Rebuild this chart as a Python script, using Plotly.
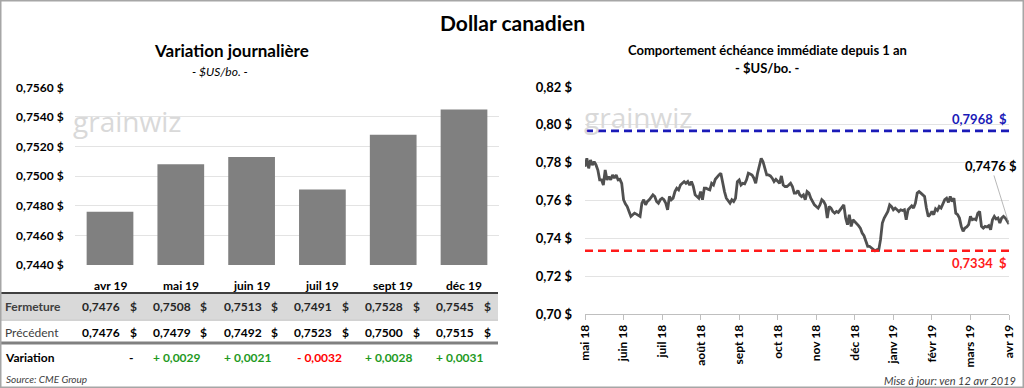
import plotly.graph_objects as go

# ---------------- data ----------------
bar_months = ["avr 19", "mai 19", "juin 19", "juil 19", "sept 19", "déc 19"]
fermeture = [0.7476, 0.7508, 0.7513, 0.7491, 0.7528, 0.7545]
precedent = [0.7476, 0.7479, 0.7492, 0.7523, 0.7500, 0.7515]
variation = [None, 0.0029, 0.0021, -0.0032, 0.0028, 0.0031]

line_tick_labels = ["mai 18", "juin 18", "juil 18", "août 18", "sept 18", "oct 18",
                    "nov 18", "déc 18", "janv 19", "févr 19", "mars 19", "avr 19"]
cad_values = [
    0.7779, 0.7823, 0.7770, 0.7814, 0.7788, 0.7805, 0.7788, 0.7761, 0.7709, 0.7709, 0.7682,
    0.7761, 0.7709, 0.7726, 0.7709, 0.7735, 0.7718, 0.7735, 0.7709, 0.7712, 0.7691,
    0.7604, 0.7582, 0.7568, 0.7542, 0.7516, 0.7525, 0.7533, 0.7528, 0.7521, 0.7516, 0.7586,
    0.7604, 0.7577, 0.7595, 0.7604, 0.7621, 0.7630, 0.7621, 0.7595, 0.7586, 0.7604,
    0.7612, 0.7604, 0.7586, 0.7551, 0.7621, 0.7604, 0.7612, 0.7647, 0.7665, 0.7656, 0.7682,
    0.7691, 0.7700, 0.7691, 0.7700, 0.7682, 0.7700, 0.7674, 0.7630, 0.7621, 0.7612,
    0.7647, 0.7604, 0.7665, 0.7665, 0.7660, 0.7656, 0.7691, 0.7682, 0.7712, 0.7726, 0.7735,
    0.7744, 0.7691, 0.7647, 0.7612, 0.7595, 0.7586, 0.7604, 0.7595, 0.7612, 0.7700,
    0.7709, 0.7682, 0.7691, 0.7688, 0.7709, 0.7744, 0.7740, 0.7735, 0.7718, 0.7691, 0.7744,
    0.7788, 0.7823, 0.7805, 0.7770, 0.7735, 0.7735, 0.7730, 0.7718, 0.7700, 0.7712,
    0.7700, 0.7691, 0.7730, 0.7682, 0.7674, 0.7674, 0.7682, 0.7691, 0.7674, 0.7639, 0.7639,
    0.7653, 0.7630, 0.7621, 0.7630, 0.7604, 0.7647, 0.7639, 0.7612, 0.7595, 0.7577,
    0.7568, 0.7560, 0.7577, 0.7604, 0.7595, 0.7577, 0.7507, 0.7568, 0.7560, 0.7542, 0.7533,
    0.7542, 0.7537, 0.7551, 0.7565, 0.7577, 0.7507, 0.7472, 0.7525, 0.7463, 0.7498,
    0.7489, 0.7481, 0.7467, 0.7454, 0.7428, 0.7414, 0.7384, 0.7358, 0.7358, 0.7349, 0.7340,
    0.7334, 0.7340, 0.7337, 0.7393, 0.7481, 0.7507, 0.7525, 0.7542, 0.7577, 0.7568,
    0.7551, 0.7560, 0.7551, 0.7542, 0.7551, 0.7547, 0.7551, 0.7498, 0.7551, 0.7560, 0.7572,
    0.7560, 0.7586, 0.7639, 0.7647, 0.7639, 0.7630, 0.7621, 0.7560, 0.7516, 0.7525,
    0.7542, 0.7525, 0.7556, 0.7547, 0.7568, 0.7560, 0.7586, 0.7604, 0.7612, 0.7590, 0.7621,
    0.7595, 0.7612, 0.7533, 0.7525, 0.7507, 0.7463, 0.7437, 0.7454, 0.7460, 0.7472,
    0.7516, 0.7498, 0.7502, 0.7498, 0.7533, 0.7542, 0.7463, 0.7454, 0.7463, 0.7460, 0.7467,
    0.7446, 0.7498, 0.7516, 0.7502, 0.7507, 0.7481, 0.7507, 0.7516, 0.7507, 0.7489,
    0.7476,
]
high_1y = 0.7968
low_1y = 0.7334
last_value = cad_values[-1]

left_y_ticks = [0.7440, 0.7460, 0.7480, 0.7500, 0.7520, 0.7540, 0.7560]
right_y_ticks = [0.70, 0.72, 0.74, 0.76, 0.78, 0.80, 0.82]

# ---------------- helpers ----------------
FONT = "Lato"
W, H = 1024, 388


def py(ypx):
    return 1 - ypx / H


def px(xpx):
    return xpx / W


def fr(v, d=4):
    return f"{v:.{d}f}".replace(".", ",")


fig = go.Figure()

fig.add_trace(go.Bar(
    x=bar_months, y=fermeture, marker=dict(color="#808080", line=dict(width=0)),
    width=0.66, xaxis="x", yaxis="y", showlegend=False, hoverinfo="skip",
))

idx = list(range(len(cad_values)))
fig.add_trace(go.Scatter(
    x=idx, y=cad_values, mode="lines", line=dict(color="#505050", width=2.8),
    xaxis="x2", yaxis="y2", showlegend=False, hoverinfo="skip",
))
fig.add_trace(go.Scatter(
    x=[idx[0], idx[-1]], y=[high_1y, high_1y], mode="lines",
    line=dict(color="#1a1ab8", width=2.6, dash="8px,5px"),
    xaxis="x2", yaxis="y2", showlegend=False, hoverinfo="skip",
))
fig.add_trace(go.Scatter(
    x=[idx[0], idx[-1]], y=[low_1y, low_1y], mode="lines",
    line=dict(color="#ff1a1a", width=2.6, dash="8px,5px"),
    xaxis="x2", yaxis="y2", showlegend=False, hoverinfo="skip",
))

tick_step = (len(cad_values) - 1) // (len(line_tick_labels) - 1)
tickvals = [i * tick_step for i in range(len(line_tick_labels))]

ann = []


def add_text(text, x, y, xref="paper", yref="paper", xanchor="center", size=12, color="#000",
             family=FONT, xshift=0, yshift=0):
    ann.append(dict(text=text, x=x, y=y, xref=xref, yref=yref, xanchor=xanchor, yanchor="middle",
                    xshift=xshift, yshift=yshift, showarrow=False,
                    font=dict(size=size, color=color, family=family)))


add_text("<b>Dollar canadien</b>", 0.5, py(22), size=21)
add_text("<b>Variation journalière</b>", px(231), py(51), size=17)
add_text("<i>- $US/bo. -</i>", px(220), py(71), size=12)
add_text("<b>Comportement échéance immédiate depuis 1 an</b>", px(767), py(50), size=13)
add_text("<b>- $US/bo. -</b>", px(767), py(68), size=13)

for wx, wy in [(71, 121), (582, 117)]:
    add_text("grainwiz", px(wx), py(wy), xanchor="left", size=28, color="#d9d9d9", family="Open Sans")

for m in bar_months:
    add_text(f"<b>{m}</b>", m, py(285), xref="x", size=12)

add_text("<b>Fermeture</b>", px(3), py(306), xanchor="left", color="#404040")
add_text("Précédent", px(3), py(332), xanchor="left", color="#404040")
add_text("<b>Variation</b>", px(3), py(357), xanchor="left", color="#000")

for m, f, p, v in zip(bar_months, fermeture, precedent, variation):
    for val, yy, col in [(f, 306, "#262626"), (p, 332, "#000")]:
        add_text(f"<b>{fr(val)}</b>", m, py(yy), xref="x", xanchor="right", xshift=12, color=col)
        add_text("<b>$</b>", m, py(yy), xref="x", xanchor="center", xshift=23, color=col)
    if v is None:
        add_text("<b>-</b>", m, py(357), xref="x", xanchor="right", xshift=25)
    elif v >= 0:
        add_text(f"<b>+ {fr(abs(v))}</b>", m, py(357), xref="x", xanchor="right", xshift=22,
                 color="#1f9a1f")
    else:
        add_text(f"<b>- {fr(abs(v))}</b>", m, py(357), xref="x", xanchor="right", xshift=22,
                 color="#ff0000")

add_text("<i>Source: CME Group</i>", px(4), py(379), xanchor="left", size=10, color="#404040")
add_text("<i>Mise à jour: ven 12 avr 2019</i>", px(1018), py(380), xanchor="right", size=11,
         color="#404040")

add_text(f"<b>{fr(high_1y)}  $</b>", 1, high_1y, xref="x2 domain", yref="y2", xanchor="right",
         yshift=12, size=13, color="#1a1ab8")
add_text(f"<b>{fr(low_1y)}  $</b>", 1, low_1y, xref="x2 domain", yref="y2", xanchor="right",
         yshift=-12, size=13, color="#ff1a1a")
ann.append(dict(text=f"<b>{fr(last_value)} $</b>", x=idx[-1], y=last_value, xref="x2", yref="y2",
                ax=-18, ay=-58, showarrow=True, arrowhead=0, arrowwidth=0.8,
                arrowcolor="#a6a6a6", font=dict(size=13, color="#000", family=FONT)))

shapes = [
    dict(type="rect", xref="paper", yref="paper", x0=0, x1=px(498), y0=py(319), y1=py(294),
         fillcolor="#d9d9d9", line=dict(width=0), layer="below"),
    dict(type="line", xref="paper", yref="paper", x0=0, x1=px(498), y0=py(293), y1=py(293),
         line=dict(color="#404040", width=2)),
    dict(type="line", xref="paper", yref="paper", x0=0, x1=px(498), y0=py(320), y1=py(320),
         line=dict(color="#a6a6a6", width=1)),
    dict(type="line", xref="paper", yref="paper", x0=0, x1=px(498), y0=py(343), y1=py(343),
         line=dict(color="#808080", width=3)),
    dict(type="rect", xref="paper", yref="paper", x0=0, x1=1, y0=0, y1=1,
         line=dict(color="#a6a6a6", width=3), fillcolor="rgba(0,0,0,0)"),
]

fig.update_layout(
    width=W, height=H, margin=dict(l=0, r=0, t=0, b=0, pad=0, autoexpand=False),
    paper_bgcolor="white", plot_bgcolor="white",
    font=dict(family=FONT, color="#000"),
    showlegend=False,
    annotations=ann, shapes=shapes,
    xaxis=dict(domain=[px(74.6), px(499.4)], type="category", showticklabels=False,
               showgrid=False, zeroline=False, showline=False, fixedrange=True, automargin=False),
    yaxis=dict(domain=[py(265), py(87.3)], range=[0.744, 0.756], tickvals=left_y_ticks,
               ticktext=[f"{fr(v)} $" for v in left_y_ticks],
               showgrid=True, gridcolor="#e3e3e3", gridwidth=1,
               zeroline=False, showline=False, ticklabelstandoff=10, automargin=False,
               tickfont=dict(size=12, weight="bold", family=FONT, color="#000")),
    xaxis2=dict(domain=[px(585), px(1009)], range=[0, len(cad_values) - 1], tickvals=tickvals,
                ticktext=line_tick_labels, tickangle=-90, ticks="outside", ticklen=5,
                tickcolor="#bfbfbf", showline=True, linecolor="#bfbfbf", linewidth=1,
                showgrid=False, zeroline=False, anchor="y2", automargin=False,
                tickfont=dict(size=12, weight="bold", family=FONT, color="#000")),
    yaxis2=dict(domain=[py(314), py(87)], range=[0.70, 0.82], tickvals=right_y_ticks,
                ticktext=[f"{fr(v, 2)} $" for v in right_y_ticks],
                showgrid=True, gridcolor="#e3e3e3",
                zeroline=False, showline=False, anchor="x2", ticklabelstandoff=12, automargin=False,
                tickfont=dict(size=13, weight="bold", family=FONT, color="#000")),
)

fig.write_html("out.html", config={"displayModeBar": False},
               post_script="document.body.style.margin='0';")
